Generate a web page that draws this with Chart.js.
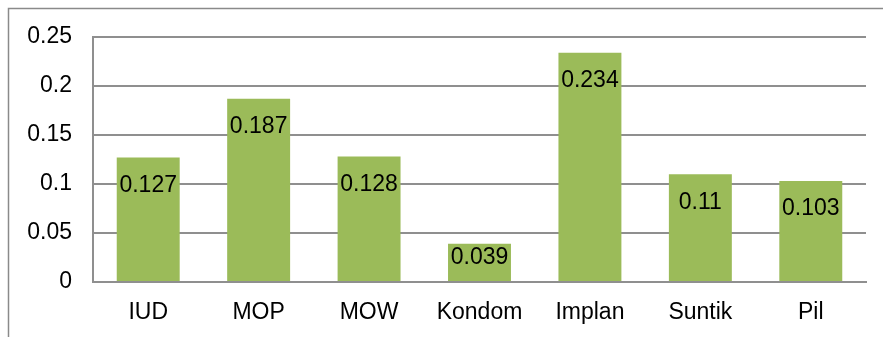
<!DOCTYPE html>
<html>
<head>
<meta charset="utf-8">
<script src="https://cdn.jsdelivr.net/npm/chart.js@4/dist/chart.umd.min.js"></script>
<style>
  html, body { margin: 0; padding: 0; background: #fff; }
  #wrap { width: 883px; height: 337px; position: relative; }
</style>
</head>
<body>
<div id="wrap"><canvas id="c" width="883" height="337"></canvas></div>
<script>
// Contraceptive methods and their values
const categories = ['IUD', 'MOP', 'MOW', 'Kondom', 'Implan', 'Suntik', 'Pil'];
const values = [0.127, 0.187, 0.128, 0.039, 0.234, 0.11, 0.103];
const yTicks = [0, 0.05, 0.1, 0.15, 0.2, 0.25];
const yTickLabels = ['0', '0.05', '0.1', '0.15', '0.2', '0.25'];

const FONT = '"Liberation Sans", Arial, sans-serif';
const FONT_SIZE = 23;
const GRID = '#8f8f8f';

// Thin frame along the left and top edge of the chart box
const framePlugin = {
  id: 'frame',
  beforeDraw(chart) {
    const ctx = chart.ctx;
    ctx.save();
    ctx.strokeStyle = '#8a8a8a';
    ctx.lineWidth = 1.5;
    ctx.beginPath();
    ctx.moveTo(8.5, chart.height);
    ctx.lineTo(8.5, 8.5);
    ctx.lineTo(chart.width, 8.5);
    ctx.stroke();
    ctx.restore();
  }
};

// Value labels placed inside each bar, just below its top
const valueLabels = {
  id: 'valueLabels',
  afterDatasetsDraw(chart) {
    const ctx = chart.ctx;
    const meta = chart.getDatasetMeta(0);
    ctx.save();
    ctx.font = FONT_SIZE + 'px ' + FONT;
    ctx.fillStyle = '#000';
    ctx.textAlign = 'center';
    ctx.textBaseline = 'middle';
    meta.data.forEach((bar, i) => {
      const y = Math.min(bar.y + 28, bar.base - 23);
      ctx.fillText(String(values[i]), bar.x, y);
    });
    ctx.restore();
  }
};

new Chart(document.getElementById('c'), {
  type: 'bar',
  data: {
    labels: categories,
    datasets: [{
      data: values,
      backgroundColor: '#9BBB59',
      borderWidth: 0,
      categoryPercentage: 1,
      barPercentage: 0.57
    }]
  },
  options: {
    responsive: false,
    animation: false,
    layout: { padding: { left: 0, top: 37, right: 17, bottom: 0 } },
    plugins: { legend: { display: false }, tooltip: { enabled: false } },
    scales: {
      x: {
        grid: { display: false, drawTicks: false },
        border: { display: true, color: GRID, width: 2 },
        ticks: { color: '#000', font: { family: FONT, size: FONT_SIZE }, padding: 17, maxRotation: 0 },
        afterFit(scale) { scale.height = 55; }
      },
      y: {
        min: 0,
        max: 0.25,
        grid: { color: GRID, lineWidth: 2, drawTicks: false },
        border: { display: true, color: GRID, width: 2 },
        ticks: {
          color: '#000',
          font: { family: FONT, size: FONT_SIZE },
          padding: 21,
          callback: (v) => yTickLabels[yTicks.indexOf(v)] ?? ''
        },
        afterBuildTicks(scale) { scale.ticks = yTicks.map(v => ({ value: v })); },
        afterFit(scale) { scale.width = 93; }
      }
    }
  },
  plugins: [framePlugin, valueLabels]
});
</script>
</body>
</html>
